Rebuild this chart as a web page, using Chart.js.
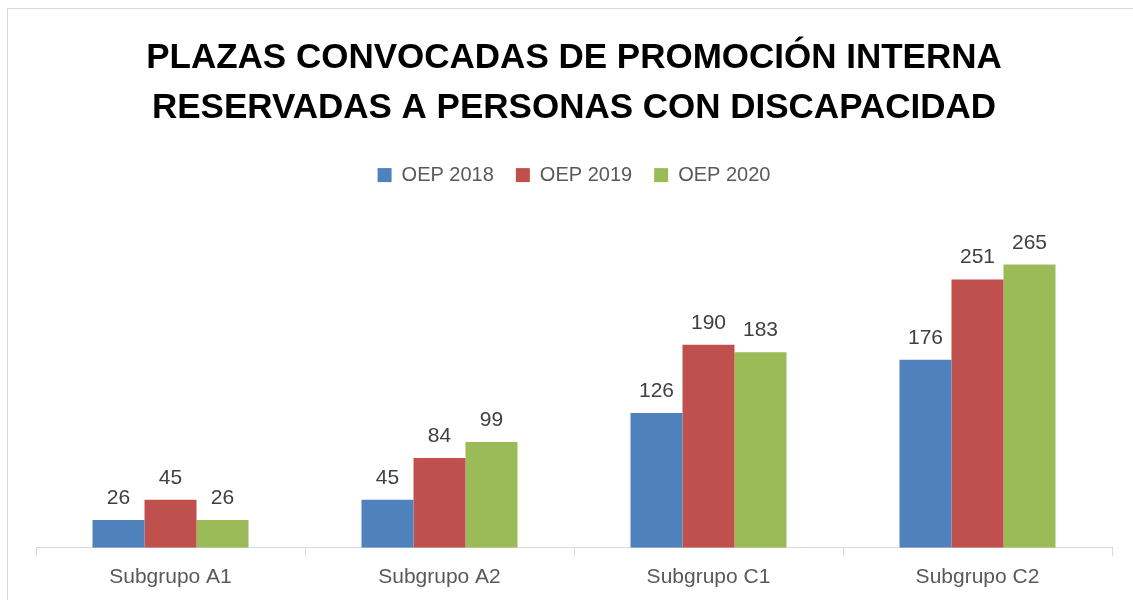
<!DOCTYPE html>
<html>
<head>
<meta charset="utf-8">
<script src="https://cdn.jsdelivr.net/npm/chart.js@4/dist/chart.umd.min.js"></script>
<style>
  html, body { margin: 0; padding: 0; background: #fff; overflow: hidden; }
  #frame { position: absolute; left: 7px; top: 8px; width: 1140px; height: 600px; border: 1px solid #d9d9d9; }
  #myChart { position: absolute; left: 0; top: 0; }
</style>
</head>
<body>
<div id="frame"></div>
<canvas id="myChart" width="1133" height="600"></canvas>
<script>
const categories = ['Subgrupo A1', 'Subgrupo A2', 'Subgrupo C1', 'Subgrupo C2'];
const oep2018 = [26, 45, 126, 176];
const oep2019 = [45, 84, 190, 251];
const oep2020 = [26, 99, 183, 265];
const seriesNames = ['OEP 2018', 'OEP 2019', 'OEP 2020'];
const titleLines = ['PLAZAS CONVOCADAS DE PROMOCIÓN INTERNA', 'RESERVADAS A PERSONAS CON DISCAPACIDAD'];

const font = '"Liberation Sans", Arial, sans-serif';

// draw the value above each bar
const barLabels = {
  id: 'barLabels',
  afterDatasetsDraw(chart) {
    const c = chart.ctx;
    c.save();
    c.font = '21px ' + font;
    c.fillStyle = '#404040';
    c.textAlign = 'center';
    c.textBaseline = 'alphabetic';
    chart.data.datasets.forEach((ds, i) => {
      chart.getDatasetMeta(i).data.forEach((bar, j) => {
        c.fillText(ds.data[j], bar.x, bar.y - 16);
      });
    });
    c.restore();
  }
};

// extra room between legend and plot area
const legendGap = {
  id: 'legendGap',
  beforeInit(chart) {
    const fit = chart.legend.fit;
    chart.legend.fit = function () {
      fit.bind(chart.legend)();
      this.height += 32;
    };
  }
};

const ctx = document.getElementById('myChart');
new Chart(ctx, {
  type: 'bar',
  data: {
    labels: categories,
    datasets: [
      { label: seriesNames[0], data: oep2018, backgroundColor: '#4f81bd' },
      { label: seriesNames[1], data: oep2019, backgroundColor: '#c0504d' },
      { label: seriesNames[2], data: oep2020, backgroundColor: '#9bbb59' }
    ]
  },
  options: {
    responsive: false,
    devicePixelRatio: 1,
    animation: false,
    layout: { padding: { left: 36, right: 21, top: 0, bottom: 1 } },
    datasets: {
      bar: { categoryPercentage: 0.58, barPercentage: 1 }
    },
    plugins: {
      title: {
        display: true,
        text: titleLines,
        color: '#000',
        font: { family: font, size: 35, weight: 'bold', lineHeight: 1.43 },
        padding: { top: 33, bottom: 10 }
      },
      legend: {
        display: true,
        labels: {
          color: '#595959',
          font: { family: font, size: 20 },
          boxWidth: 14,
          boxHeight: 14,
          padding: 22
        }
      },
      tooltip: { enabled: false }
    },
    scales: {
      x: {
        grid: { display: true, drawOnChartArea: false, drawTicks: true, tickLength: 8, color: '#d9d9d9', offset: true },
        border: { display: true, color: '#d9d9d9' },
        ticks: { color: '#595959', font: { family: font, size: 21 }, padding: 9 }
      },
      y: { display: false, min: 0, max: 300 }
    }
  },
  plugins: [barLabels, legendGap]
});
</script>
</body>
</html>
